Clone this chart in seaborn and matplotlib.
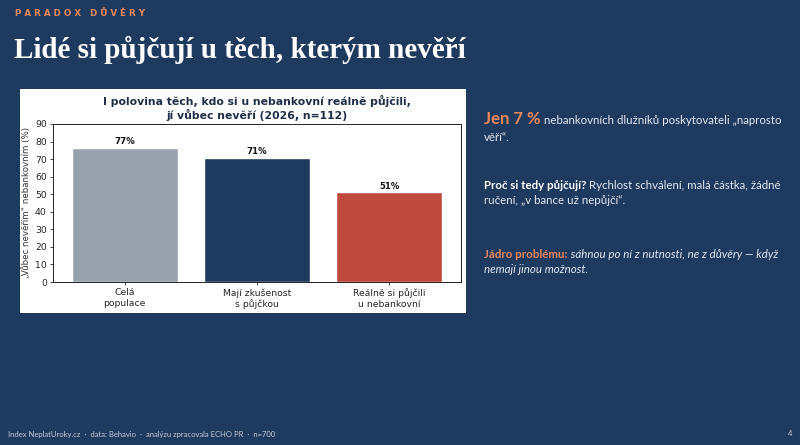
import seaborn as sns
import matplotlib.pyplot as plt
import matplotlib.patches as mpatches
import pandas as pd

# data
kategorie = ["Celá\npopulace", "Mají zkušenost\ns půjčkou", "Reálně si půjčili\nu nebankovní"]
hodnoty = [76.6, 70.9, 51.0]
barvy = ["#98A2AE", "#1F3A5F", "#C0493D"]
yticks = [0, 10, 20, 30, 40, 50, 60, 70, 80, 90]

BG = "#1F3A5F"
ORANZ = "#E8875A"
SVETLA = "#E2E7EF"

sns.set_style("white")
plt.rcParams["font.family"] = ["DejaVu Sans"]

fig = plt.figure(figsize=(8, 4.45), dpi=100, facecolor=BG)

# bily box s grafem
box = mpatches.Rectangle((20 / 800, 1 - 313 / 445), 446 / 800, 224 / 445,
                         transform=fig.transFigure, facecolor="white",
                         edgecolor="none", zorder=-5)
fig.patches.append(box)

ax = fig.add_axes([53 / 800, 1 - 282 / 445, 408 / 800, 158 / 445])
ax.set_zorder(2)
df = pd.DataFrame({"kat": kategorie, "val": hodnoty})
sns.barplot(data=df, x="kat", y="val", hue="kat", palette=barvy,
            legend=False, width=0.8, saturation=1, ax=ax)
ax.set_ylim(0, 90)
ax.set_xlim(-0.54, 2.54)
ax.set_yticks(yticks)
ax.set_xlabel("")
ax.set_ylabel("„Vůbec nevěřím“ nebankovním (%)", fontsize=6.2, labelpad=3,
              color="#333333")
ax.tick_params(axis="both", labelsize=6.7, length=2.5, width=0.6,
               left=True, bottom=True, pad=2)
for s in ax.spines.values():
    s.set_linewidth(0.7)
    s.set_color("#222222")
for i, v in enumerate(hodnoty):
    ax.text(i, v + 0.6, f"{v:.0f}%", ha="center", va="bottom",
            fontsize=6.2, fontweight="bold", color="#111111")

fig.text(257 / 800, 1 - 108 / 445,
         "I polovina těch, kdo si u nebankovní reálně půjčili,\njí vůbec nevěří (2026, n=112)",
         ha="center", va="center", fontsize=7.8, fontweight="bold",
         color="#1F2F4A", linespacing=1.1)

# nadpisy slidu
fig.text(15 / 800, 1 - 14 / 445, "P A R A D O X   D Ů V Ě R Y", color=ORANZ,
         fontsize=6.3, fontweight="bold", va="center")
fig.text(14 / 800, 1 - 50 / 445, "Lidé si půjčují u těch, kterým nevěří",
         color="white", fontsize=21, fontweight="bold",
         family="Liberation Serif", va="center")

# textovy panel vpravo
font = ["Lato", "DejaVu Sans"]
renderer = fig.canvas.get_renderer()


def radek(x, y, casti):
    # skladani vice stylu na jednom radku
    xp = x
    for txt, kw in casti:
        t = fig.text(xp / 800, 1 - y / 445, txt, va="baseline", **kw)
        xp = t.get_window_extent(renderer).x1


norm = dict(color=SVETLA, fontsize=8.3, family=font)
ital = dict(color=SVETLA, fontsize=8.3, style="italic", family=font)

radek(484, 124, [("Jen 7 %", dict(color=ORANZ, fontsize=12, fontweight="bold", family=font)),
                 (" nebankovních dlužníků poskytovateli „naprosto", norm)])
fig.text(484 / 800, 1 - 141 / 445, "věří“.", va="baseline", **norm)

radek(484, 189, [("Proč si tedy půjčují?", dict(color="white", fontsize=8.3,
                                                 fontweight="bold", family=font)),
                 (" Rychlost schválení, malá částka, žádné", norm)])
fig.text(484 / 800, 1 - 204 / 445, "ručení, „v bance už nepůjčí“.", va="baseline", **norm)

radek(484, 258, [("Jádro problému:", dict(color=ORANZ, fontsize=8.3,
                                           fontweight="bold", family=font)),
                 (" sáhnou po ní z nutnosti, ne z důvěry — když", ital)])
fig.text(484 / 800, 1 - 273 / 445, "nemají jinou možnost.", va="baseline", **ital)

# paticka
fig.text(8 / 800, 1 - 434 / 445,
         "Index NeplatUroky.cz  ·  data: Behavio  ·  analýzu zpracovala ECHO PR  ·  n=700",
         color="#C5CCD6", fontsize=5.5, va="center", family=font)
fig.text(792 / 800, 1 - 434 / 445, "4", color="#C5CCD6", fontsize=5.5,
         va="center", ha="right", family=font)

fig.savefig("out.png", dpi=100, facecolor=BG)
